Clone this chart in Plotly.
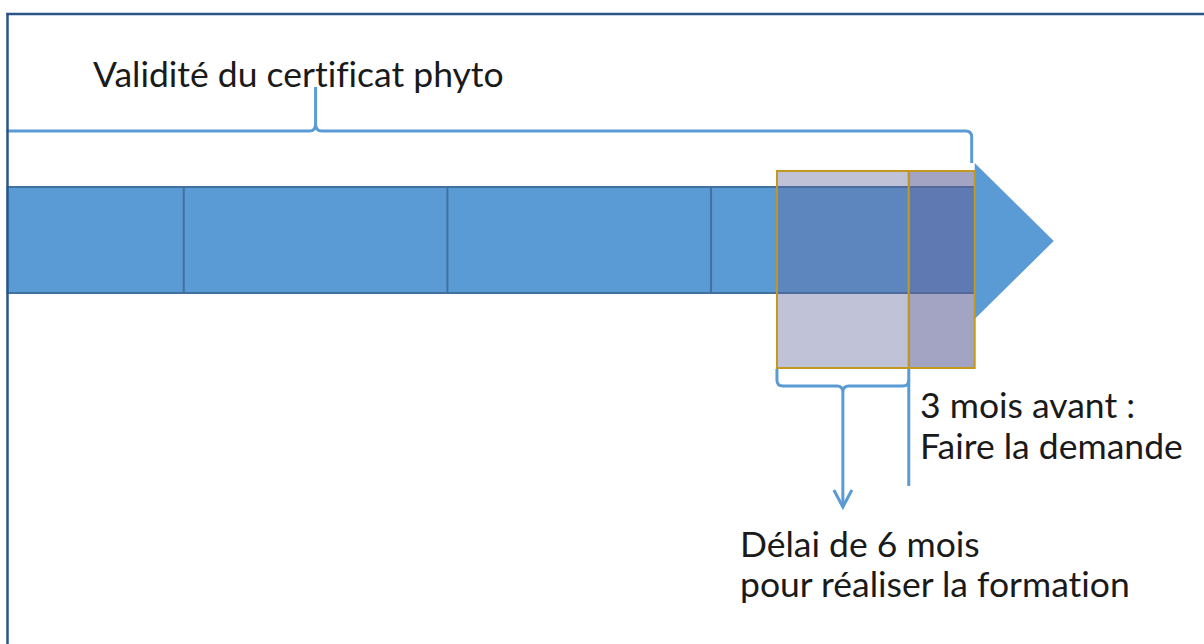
import plotly.graph_objects as go

# ---------------- data (months of a 5-year certificate) ----------------
validity_start = 0          # start of certificate validity (month)
validity_end = 60           # end of certificate validity (month)
year_marks = [12, 24, 36, 48]      # yearly separators on the timeline
training_window = [51, 57]  # "Délai de 6 mois pour réaliser la formation"
request_window = [57, 60]   # "3 mois avant : Faire la demande"
arrow_tip = 63.6            # tip of the timeline arrow head
brace_mid = (validity_start + validity_end) / 2

title_text = "Validité du certificat phyto"
request_lines = ["3 mois avant :", "Faire la demande"]
training_lines = ["Délai de 6 mois", "pour réaliser la formation"]

# ---------------- layout / styling ----------------
W, H = 1204, 644
PX_PER_MONTH = 21.97
X0 = 16 - 8 / PX_PER_MONTH
X1 = X0 + W / PX_PER_MONTH

BAR_FILL = "#5b9bd5"
BAR_EDGE = "#41719c"
BRACE = "#5b9bd5"
GOLD = "#c3981f"
BORDER = "#2b5489"
FONT = "Lato"
FS = 35.5
TXT = "#1a1a1a"

ZWNJ = "\u200c"

def no_lig(s):
    # break Lato's "fi"/"ti" ligatures
    return s.replace("fi", "f" + ZWNJ + "i").replace("ti", "t" + ZWNJ + "i")

def px(xp):
    return xp / W

def py(yp):
    return 1 - yp / H

bar_top, bar_bot = 187, 293
box_top, box_bot = 171, 368
mo = 1 / PX_PER_MONTH  # one pixel in months

shapes = []
# main bar
shapes.append(dict(type="rect", xref="x", yref="y", x0=validity_start, x1=validity_end,
                   y0=bar_top, y1=bar_bot, fillcolor=BAR_FILL,
                   line=dict(color=BAR_EDGE, width=2), layer="below"))
for m in year_marks:
    shapes.append(dict(type="line", xref="x", yref="y", x0=m, x1=m, y0=bar_top, y1=bar_bot,
                       line=dict(color=BAR_EDGE, width=2), layer="below"))
# arrow head
shapes.append(dict(type="path", xref="x", yref="y",
                   path=f"M {validity_end},163 L {arrow_tip},241 L {validity_end},319 Z",
                   fillcolor=BAR_FILL, line=dict(width=0), layer="below"))
# overlay boxes
shapes.append(dict(type="rect", xref="x", yref="y", x0=training_window[0], x1=training_window[1],
                   y0=box_top, y1=box_bot, fillcolor="rgba(98,102,155,0.40)",
                   line=dict(color=GOLD, width=2)))
shapes.append(dict(type="rect", xref="x", yref="y", x0=request_window[0], x1=request_window[1],
                   y0=box_top, y1=box_bot, fillcolor="rgba(98,100,152,0.585)",
                   line=dict(color=GOLD, width=2)))

# top curly brace over the whole validity
r = 6 * mo
rx = validity_end - 3 * mo
top_path = (f"M {validity_start},131 L {brace_mid - r},131 "
            f"Q {brace_mid},131 {brace_mid},124 L {brace_mid},87 "
            f"M {brace_mid},124 Q {brace_mid},131 {brace_mid + r},131 "
            f"L {rx - r},131 Q {rx},131 {rx},137 L {rx},163")
shapes.append(dict(type="path", xref="x", yref="y", path=top_path,
                   line=dict(color=BRACE, width=3)))

# bottom brace under the training window + arrow
a, b = training_window
c = (a + b) / 2
bot_path = (f"M {a},369 L {a},380 Q {a},386 {a + r},386 "
            f"L {c - r},386 Q {c},386 {c},392 L {c},506 "
            f"M {c + r},386 Q {c},386 {c},392 "
            f"M {c + r},386 L {b - r},386 Q {b},386 {b},380")
shapes.append(dict(type="path", xref="x", yref="y", path=bot_path,
                   line=dict(color=BRACE, width=3)))
# arrow chevron
shapes.append(dict(type="path", xref="x", yref="y",
                   path=f"M {c - 9 * mo},490 L {c},507 L {c + 9 * mo},490",
                   line=dict(color=BRACE, width=3)))
# vertical marker at start of request window
shapes.append(dict(type="line", xref="x", yref="y", x0=request_window[0], x1=request_window[0],
                   y0=369, y1=486, line=dict(color=BRACE, width=3)))

# white margin left of frame + frame
shapes.append(dict(type="rect", xref="paper", yref="paper", x0=0, x1=px(6.5), y0=0, y1=1,
                   fillcolor="white", line=dict(width=0)))
shapes.append(dict(type="rect", xref="paper", yref="paper", x0=0, x1=1, y0=py(12.5), y1=1,
                   fillcolor="white", line=dict(width=0)))
shapes.append(dict(type="line", xref="paper", yref="paper", x0=px(7.5), x1=px(7.5),
                   y0=py(13), y1=0, line=dict(color=BORDER, width=2.5)))
shapes.append(dict(type="line", xref="paper", yref="paper", x0=px(6.3), x1=1,
                   y0=py(14), y1=py(14), line=dict(color=BORDER, width=2.5)))

def ann(text, xp, yp):
    return dict(text=no_lig(text), xref="paper", yref="paper", x=px(xp), y=py(yp),
                xanchor="left", yanchor="middle", showarrow=False,
                font=dict(family=FONT, size=FS, color=TXT))

annotations = [ann(title_text, 91, 74),
               ann(request_lines[0], 918, 404),
               ann(request_lines[1], 918, 445),
               ann(training_lines[0], 738, 543),
               ann(training_lines[1], 738, 583)]

fig = go.Figure()
fig.add_trace(go.Scatter(x=[X0, X1], y=[0, H], mode="markers",
                         marker=dict(opacity=0), hoverinfo="skip", showlegend=False))
fig.update_layout(width=W, height=H, margin=dict(l=0, r=0, t=0, b=0),
                  paper_bgcolor="white", plot_bgcolor="white",
                  xaxis=dict(range=[X0, X1], visible=False, fixedrange=True),
                  yaxis=dict(range=[H, 0], visible=False, fixedrange=True),
                  shapes=shapes, annotations=annotations, showlegend=False)
fig.write_html("out.html", config={"displayModeBar": False},
               post_script="document.body.style.margin='0';document.body.style.overflow='hidden';")
